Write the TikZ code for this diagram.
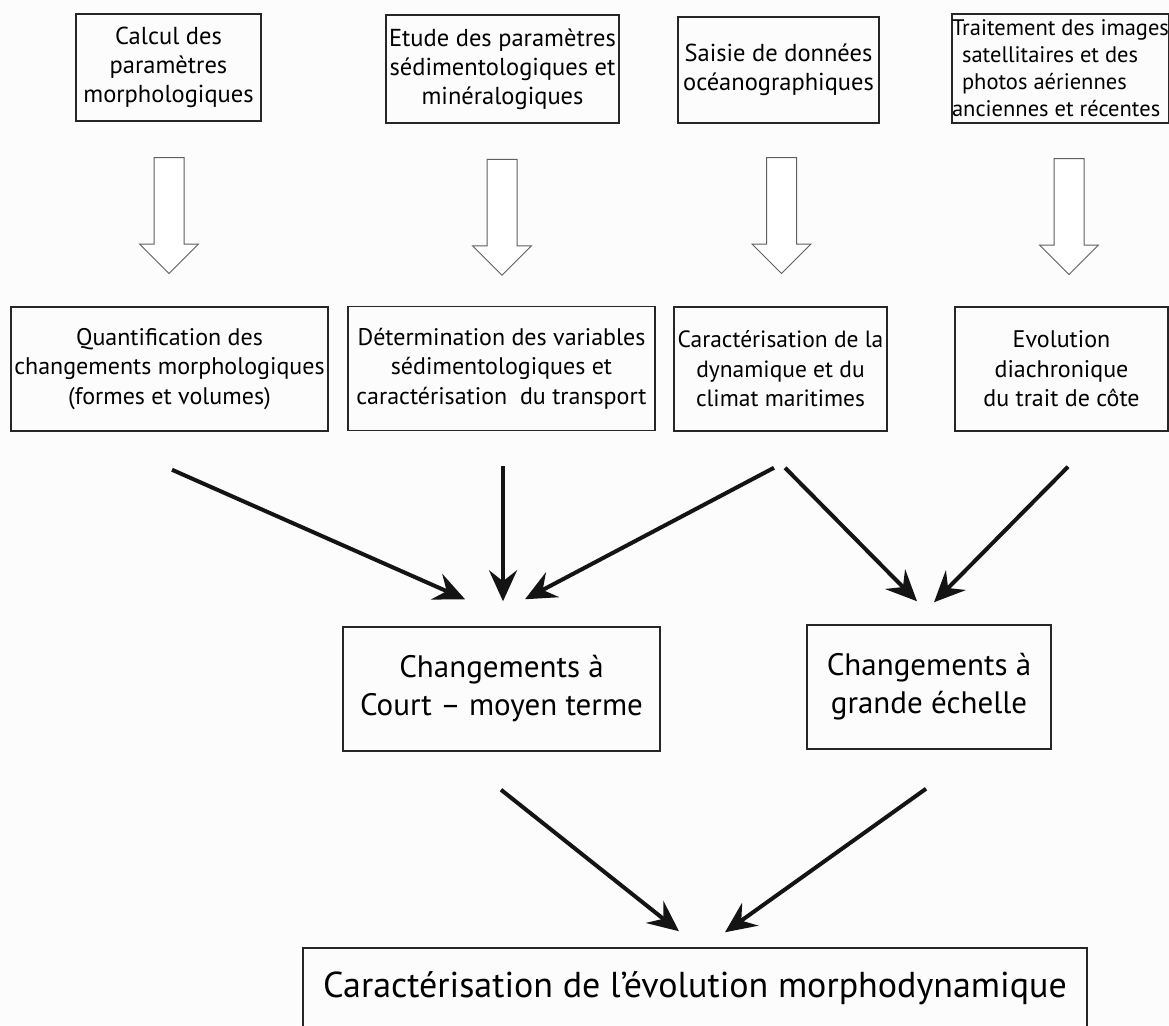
\documentclass[tikz,border=0pt]{standalone}
\usepackage{fontspec}
\setmainfont{PT Sans}
\usetikzlibrary{arrows.meta, shapes.arrows, calc}
\definecolor{bgGray}{RGB}{252,252,252}
\definecolor{lineGray}{RGB}{95,95,95}
\tikzstyle{fSource} = [rectangle, draw=black!85, line width=1.5pt, align=center, inner sep=0pt, font=\fontsize{24.5}{29}\selectfont]
\tikzstyle{fResult} = [rectangle, draw=black!85, line width=1.5pt, align=center, inner sep=0pt, minimum height=124pt, font=\fontsize{24}{29.5}\selectfont]
\tikzstyle{fChange} = [rectangle, draw=black!85, line width=1.5pt, align=center, inner sep=0pt, minimum height=124pt, font=\fontsize{31}{38}\selectfont]
\tikzstyle{fFinal} = [rectangle, draw=black!85, line width=1.5pt, align=center, inner sep=0pt, font=\fontsize{36}{43}\selectfont]
\tikzstyle{fHollow} = [single arrow, draw=lineGray, line width=1pt, fill=white, rotate=-90, minimum height=116pt, minimum width=58pt, single arrow head extend=14.5pt, inner sep=14.5pt]
\tikzstyle{fArrow} = [line width=4pt, black!92, -{Stealth[length=31pt, width=28pt, inset=11pt]}]

\begin{document}
\begin{tikzpicture}[x=1pt, y=-1pt]
    \useasboundingbox[fill=bgGray] (0,0) rectangle (1169,1025);

    \node (calcul) [fSource, minimum width=185pt, minimum height=107pt] at (168.5,67.5) {Calcul des\\paramètres\\morphologiques};
    \node (etude) [fSource, minimum width=233pt, minimum height=108pt] at (502.5,69) {Etude des paramètres\\sédimentologiques et\\minéralogiques};
    \node (saisie) [fSource, minimum width=201pt, minimum height=106pt] at (778.5,70) {Saisie de données\\océanographiques};
    \node (traitement) [fSource, align=left, minimum width=215pt, minimum height=109pt, font=\fontsize{22.5}{27}\selectfont] at (1060.5,68.5) {Traitement des images\\\hspace{10pt}satellitaires et des\\\hspace{10pt}photos aériennes\\anciennes et récentes};

    \node (quantif) [fResult, minimum width=317pt] at (169.5,369) {Quantification des\\changements morphologiques\\(formes et volumes)};
    \node (determ) [fResult, minimum width=307pt] at (501.5,368.5) {Détermination des variables\\sédimentologiques et\\caractérisation\ \ du transport};
    \node (caract) [fResult, minimum width=213pt, font=\fontsize{23.5}{29.5}\selectfont] at (780.5,369) {Caractérisation de la\\dynamique et du\\climat maritimes};
    \node (evolution) [fResult, minimum width=213pt] at (1061.5,369) {Evolution\\diachronique\\du trait de côte};

    \node (court) [fChange, minimum width=317pt] at (501.5,689) {Changements à\\Court – moyen terme};
    \node (grande) [fChange, minimum width=244pt] at (929,687) {Changements à\\grande échelle};

    \node (final) [fFinal, minimum width=784pt, minimum height=80pt] at (695,988) {Caractérisation de l’évolution morphodynamique};

    \node (h1) [fHollow] at ($(calcul.south)!0.5!(quantif.north)+(0,-6)$) {};
    \node (h2) [fHollow] at ($(etude.south)!0.5!(determ.north)+(0,-5)$) {};
    \node (h3) [fHollow] at ($(saisie.south)!0.5!(caract.north)+(2,-7)$) {};
    \node (h4) [fHollow] at ($(traitement.south)!0.5!(evolution.north)+(8,-6)$) {};

    \draw [fArrow] ([shift={(2.5,38)}]quantif.south) -- ([shift={(-36.5,-27)}]court.north);
    \draw [fArrow] ([shift={(1.5,35)}]determ.south) -- ([shift={(1.5,-25)}]court.north);
    \draw [fArrow] ([shift={(-6.5,36)}]caract.south) -- ([shift={(23.5,-27)}]court.north);
    \draw [fArrow] ([shift={(4.5,36)}]caract.south) -- ([shift={(-12,-23)}]grande.north);
    \draw [fArrow] ([shift={(6.5,35)}]evolution.south) -- ([shift={(5,-22)}]grande.north);
    \draw [fArrow] ([shift={(-0.5,38)}]court.south) -- ([shift={(-16,-16)}]final.north);
    \draw [fArrow] ([shift={(-3,39)}]grande.south) -- ([shift={(30,-15)}]final.north);
\end{tikzpicture}
\end{document}
